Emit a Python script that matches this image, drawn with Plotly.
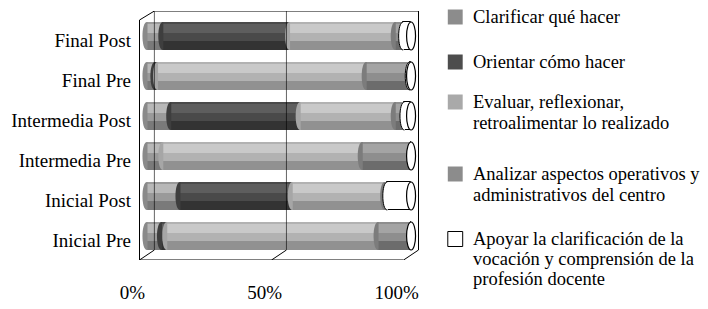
import plotly.graph_objects as go
import numpy as np

# ---------------- data ----------------
categories = ["Final Post", "Final Pre", "Intermedia Post", "Intermedia Pre", "Inicial Post", "Inicial Pre"]
series_lines = [
    ["Clarificar qué hacer"],
    ["Orientar cómo hacer"],
    ["Evaluar, reflexionar,", "retroalimentar lo realizado"],
    ["Analizar aspectos operativos y", "administrativos del centro"],
    ["Apoyar la clarificación de la", "vocación y comprensión de la", "profesión docente"],
]
clarificar = [6, 3, 9, 6, 12.5, 5.5]
orientar = [48, 1, 49, 0, 42.5, 2]
evaluar = [40, 79, 36, 75.5, 35, 80]
analizar = [3, 16.5, 3.5, 18.5, 1, 12.5]
apoyar = [3, 0.5, 2.5, 0, 9, 0]
x_ticks = [0, 50, 100]
x_ticktext = ["0%", "50%", "100%"]

# ---------------- styling ----------------
FONT = "Liberation Serif, Times New Roman, serif"
FS = 19
FS_LEG = 18.5
legend_cols = ["#8c8c8c", "#4d4d4d", "#a9a9a9", "#8c8c8c", "#ffffff"]
base_cols = ["#9a9a9a", "#4a4a4a", "#b2b2b2", "#8e8e8e", "#ffffff"]
hi_cols = ["#b8b8b8", "#5e5e5e", "#c9c9c9", "#a4a4a4", None]
sh_cols = ["#7a7a7a", "#333333", "#919191", "#6c6c6c", None]
cap_cols = ["#8a8a8a", "#3e3e3e", "#a6a6a6", "#7c7c7c", "#ffffff"]

values = np.array([clarificar, orientar, evaluar, analizar, apoyar], dtype=float)
bases = np.vstack([np.zeros(len(categories)), np.cumsum(values, axis=0)[:-1]])
ypos = np.arange(len(categories))

BAR_W = 0.7
H = BAR_W / 2
DX = 2.82          # depth offset in x data units
Y_TOP_F, Y_BOT_F = -0.4, 5.6
Y_TOP_B, Y_BOT_B = -0.625, 5.35
RX = 1.7           # ellipse x radius (data units)

# page offset (browser body margin) and plot-area geometry in figure pixels
OFF = 8
FIG_W, FIG_H = 708 - OFF, 309 - OFF
ML, MT = 137 - OFF, 11 - OFF
MR = FIG_W - (419 - OFF)
MB = FIG_H - (260 - OFF)
PW, PH = FIG_W - ML - MR, FIG_H - MT - MB

def px(xp):  # page pixel x -> paper
    return (xp - OFF - ML) / PW

def py(yp):  # page pixel y -> paper
    return 1 - (yp - OFF - MT) / PH

fig = go.Figure()
for s in range(5):
    if s == 4:
        fig.add_trace(go.Bar(
            y=ypos, x=values[s], base=bases[s], orientation="h", width=BAR_W,
            marker=dict(color=base_cols[s], line=dict(color="black", width=1)),
            showlegend=False, hoverinfo="skip"))
        continue
    fig.add_trace(go.Bar(
        y=ypos, x=values[s], base=bases[s], orientation="h", width=BAR_W,
        marker=dict(color=base_cols[s], line=dict(width=0)),
        showlegend=False, hoverinfo="skip"))
    fig.add_trace(go.Bar(
        y=ypos, x=values[s], base=bases[s], orientation="h", width=0.22, offset=-0.30,
        marker=dict(color=hi_cols[s], line=dict(width=0)),
        showlegend=False, hoverinfo="skip"))
    fig.add_trace(go.Bar(
        y=ypos, x=values[s], base=bases[s], orientation="h", width=0.23, offset=0.12,
        marker=dict(color=sh_cols[s], line=dict(width=0)),
        showlegend=False, hoverinfo="skip"))

shapes = []
line_k = dict(color="black", width=1)

def seg(x0, y0, x1, y1, layer="below", opacity=1.0):
    shapes.append(dict(type="line", xref="x", yref="y", x0=x0, y0=y0, x1=x1, y1=y1,
                       line=line_k, layer=layer, opacity=opacity))

# 3D frame
x0f, x1f = x_ticks[0] - DX, x_ticks[-1] - DX
x0b, x1b = x_ticks[0] + DX, x_ticks[-1] + DX
seg(x0f, Y_TOP_F, x0f, Y_BOT_F)
seg(x0f, Y_BOT_F, x1f, Y_BOT_F)
seg(x0f, Y_TOP_F, x0b, Y_TOP_B)
seg(x0b, Y_TOP_B, x1b, Y_TOP_B)
seg(x1b, Y_TOP_B, x1b, Y_BOT_B)
seg(x1b, Y_BOT_B, x1f, Y_BOT_F)
for v in x_ticks[:-1]:
    seg(v - DX, Y_BOT_F, v + DX, Y_BOT_B)

# cylinder caps (left half-ellipses at each segment start)
k = 4.0 / 3.0 * RX
for i in range(len(categories)):
    yc = ypos[i]
    for s in range(5):
        if values[s][i] < 0.3:
            continue
        x0 = bases[s][i]
        path = (f"M {x0+0.2},{yc-H} L {x0},{yc-H} C {x0-k},{yc-H} {x0-k},{yc+H} {x0},{yc+H} "
                f"L {x0+0.2},{yc+H} Z")
        shapes.append(dict(type="path", xref="x", yref="y", path=path,
                           fillcolor=cap_cols[s], line=dict(width=0), layer="above"))
        if s == 4:
            p2 = f"M {x0},{yc-H} C {x0-k},{yc-H} {x0-k},{yc+H} {x0},{yc+H}"
            shapes.append(dict(type="path", xref="x", yref="y", path=p2,
                               fillcolor="rgba(0,0,0,0)", line=dict(color="black", width=1),
                               layer="above"))
    # right end cap
    xe = float(np.sum(values[:, i]))
    shapes.append(dict(type="circle", xref="x", yref="y", x0=xe - RX, x1=xe + RX,
                       y0=yc - H, y1=yc + H, fillcolor="white",
                       line=dict(color="black", width=1.2), layer="above"))

# back wall gridlines (visible through the bars)
for v in x_ticks[:-1]:
    seg(v + DX, Y_TOP_B, v + DX, Y_BOT_B, layer="above", opacity=0.6)

# manual legend (squares + text lines)
legend_line_y = [[17], [62], [102, 123], [174, 195], [239, 259, 279]]
annotations = []
SQ = 15
for s in range(5):
    y_first = legend_line_y[s][0]
    shapes.append(dict(type="rect", xref="paper", yref="paper",
                       x0=px(448), x1=px(448 + SQ), y0=py(y_first - SQ / 2), y1=py(y_first + SQ / 2),
                       fillcolor=legend_cols[s],
                       line=dict(color="black" if s == 4 else legend_cols[s], width=1 if s == 4 else 0)))
    for txt, yl in zip(series_lines[s], legend_line_y[s]):
        annotations.append(dict(xref="paper", yref="paper", x=px(471), y=py(yl),
                                xanchor="left", yanchor="middle", text=txt, showarrow=False,
                                font=dict(family=FONT, size=FS_LEG, color="black")))

fig.update_layout(
    width=FIG_W, height=FIG_H, autosize=False,
    margin=dict(l=ML, r=MR, t=MT, b=MB, pad=0),
    paper_bgcolor="white", plot_bgcolor="white",
    barmode="overlay", bargap=0, showlegend=False,
    font=dict(family=FONT, size=FS, color="black"),
    shapes=shapes, annotations=annotations,
    xaxis=dict(range=[(137 - 145) / 2.66, (419 - 145) / 2.66], showgrid=False, zeroline=False,
               showline=False, tickvals=[v - DX for v in x_ticks], ticktext=x_ticktext, ticks="",
               ticklabelstandoff=19, ticklabelshift=-7,
               tickfont=dict(family=FONT, size=FS, color="black")),
    yaxis=dict(range=[5.6, -0.625], showgrid=False, zeroline=False, showline=False,
               tickvals=list(ypos), ticktext=categories, ticks="",
               ticklabelstandoff=7, ticklabelshift=-4,
               tickfont=dict(family=FONT, size=FS, color="black")),
)

fig.write_html("out.html")
